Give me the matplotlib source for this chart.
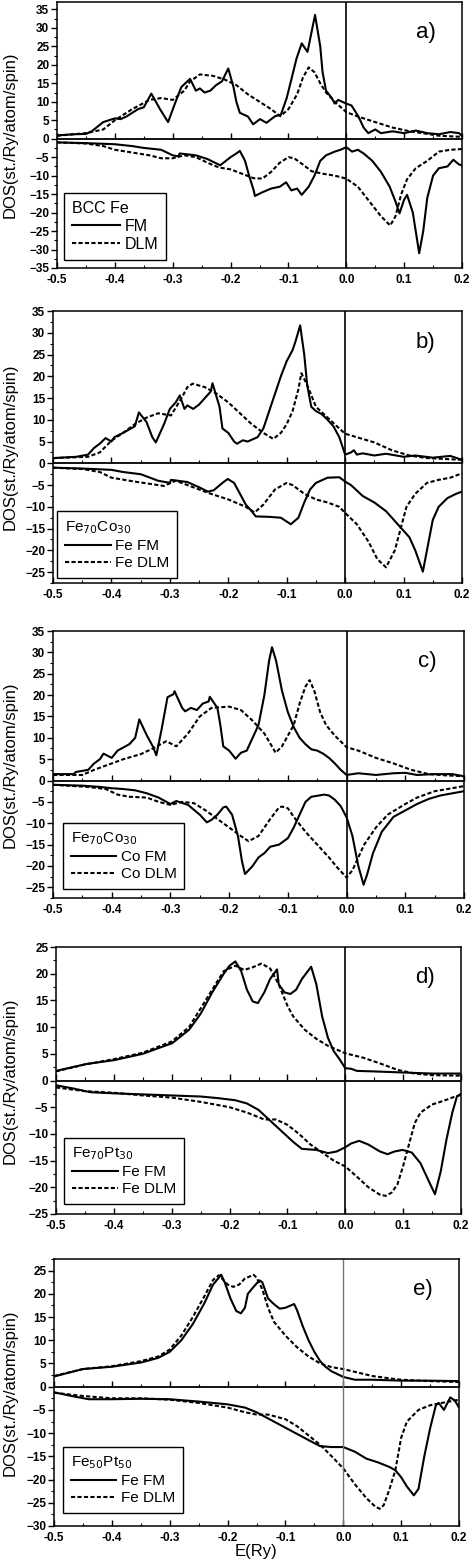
import numpy as np
import matplotlib
matplotlib.use("Agg")
import matplotlib.pyplot as plt
from matplotlib.ticker import MultipleLocator

plt.rcParams['font.family'] = ['Liberation Sans', 'DejaVu Sans']

# ---------------- panel a) BCC Fe ----------------
a_fm_up_x = [-0.5, -0.47, -0.45, -0.44, -0.42, -0.40, -0.39, -0.38, -0.36, -0.35, -0.337, -0.322, -0.308, -0.295,
             -0.285, -0.27, -0.26, -0.253, -0.245, -0.235, -0.225, -0.215, -0.204, -0.195, -0.19, -0.184, -0.17,
             -0.161, -0.149, -0.138, -0.123, -0.113, -0.103, -0.095, -0.086, -0.077, -0.067, -0.054, -0.045,
             -0.041, -0.035, -0.025, -0.02, -0.014, 0.0, 0.009, 0.021, 0.03, 0.038, 0.05, 0.06, 0.08, 0.1,
             0.12, 0.14, 0.16, 0.18, 0.195, 0.2]
a_fm_up_y = [0.9, 1.2, 1.3, 2.0, 4.5, 5.5, 5.3, 6.0, 8.0, 8.5, 12.2, 8.0, 4.5, 10.0,
             14.0, 16.2, 13.0, 13.6, 12.5, 13.0, 14.5, 15.5, 19.0, 14.0, 10.0, 7.0, 6.0,
             3.9, 5.3, 4.3, 6.1, 6.5, 11.0, 16.0, 21.7, 25.8, 23.5, 33.5, 25.0,
             18.0, 13.0, 11.0, 9.5, 10.5, 9.5, 9.0, 6.0, 3.0, 1.5, 2.5, 1.5, 2.0, 1.5,
             2.2, 1.5, 1.2, 1.8, 1.5, 0.7]
a_dlm_up_x = [-0.5, -0.45, -0.42, -0.40, -0.37, -0.34, -0.32, -0.30, -0.28, -0.27, -0.253, -0.23, -0.21, -0.19,
              -0.17, -0.15, -0.13, -0.114, -0.10, -0.085, -0.075, -0.065, -0.055, -0.045, -0.035, -0.02, 0.0,
              0.02, 0.05, 0.08, 0.11, 0.14, 0.16, 0.2]
a_dlm_up_y = [0.8, 1.5, 2.5, 5.0, 8.0, 10.5, 11.0, 10.5, 13.0, 15.5, 17.4, 17.0, 16.0, 14.5,
              12.0, 10.0, 8.0, 6.1, 8.0, 12.0, 16.5, 19.3, 18.0, 15.0, 12.5, 10.0, 7.2,
              6.0, 4.5, 3.0, 2.0, 1.3, 0.8, 0.5]
a_fm_dn_x = [-0.5, -0.45, -0.40, -0.37, -0.35, -0.32, -0.30, -0.29, -0.288, -0.26, -0.24, -0.218, -0.2, -0.19,
             -0.184, -0.175, -0.168, -0.16, -0.158, -0.145, -0.13, -0.115, -0.104, -0.095, -0.085, -0.077,
             -0.065, -0.055, -0.045, -0.035, -0.02, -0.01, 0.0, 0.01, 0.02, 0.03, 0.045, 0.06, 0.075, 0.085,
             0.092, 0.1, 0.105, 0.115, 0.122, 0.126, 0.133, 0.14, 0.15, 0.16, 0.175, 0.185, 0.195, 0.2]
a_fm_dn_y = [-1.0, -1.2, -1.5, -2.0, -2.5, -3.0, -4.5, -4.8, -4.0, -4.5, -5.5, -7.2, -5.0, -4.0,
             -3.3, -6.0, -10.0, -14.0, -15.5, -14.5, -13.5, -13.0, -11.8, -14.0, -13.5, -15.2,
             -13.0, -10.0, -6.0, -4.5, -3.5, -3.0, -2.3, -3.5, -3.0, -4.0, -6.0, -9.0, -13.0, -17.0,
             -20.2, -16.5, -15.2, -20.0, -27.0, -31.0, -25.0, -16.0, -10.0, -8.0, -7.5, -5.7, -7.0, -7.2]
a_dlm_dn_x = [-0.5, -0.45, -0.42, -0.40, -0.38, -0.36, -0.34, -0.32, -0.30, -0.28, -0.26, -0.24, -0.22, -0.20,
              -0.18, -0.16, -0.145, -0.13, -0.115, -0.1, -0.09, -0.075, -0.06, -0.04, -0.02, 0.0, 0.02, 0.04,
              0.06, 0.076, 0.085, 0.095, 0.105, 0.12, 0.14, 0.16, 0.18, 0.2]
a_dlm_dn_y = [-1.0, -1.3, -2.0, -3.0, -3.5, -4.0, -4.5, -5.3, -5.3, -4.5, -5.0, -6.5, -7.8, -8.3,
              -9.5, -10.7, -10.8, -9.0, -6.5, -5.0, -5.3, -7.0, -8.8, -9.5, -10.0, -10.8, -13.0, -17.0,
              -21.0, -23.5, -21.0, -15.0, -11.0, -8.0, -6.0, -3.5, -3.0, -2.8]

# ---------------- panel b) Fe70Co30, Fe site ----------------
b_fm_up_x = [-0.5, -0.46, -0.44, -0.43, -0.42, -0.41, -0.40, -0.395, -0.38, -0.36, -0.353, -0.34, -0.33, -0.324,
             -0.31, -0.30, -0.29, -0.283, -0.275, -0.27, -0.26, -0.25, -0.24, -0.23, -0.227, -0.215, -0.21,
             -0.20, -0.19, -0.185, -0.175, -0.167, -0.15, -0.14, -0.13, -0.12, -0.11, -0.10, -0.09, -0.085,
             -0.077, -0.07, -0.065, -0.058, -0.05, -0.04, -0.03, -0.02, -0.01, -0.005, 0.0, 0.01, 0.015,
             0.02, 0.03, 0.05, 0.07, 0.1, 0.12, 0.15, 0.18, 0.2]
b_fm_up_y = [1.2, 1.5, 2.0, 3.5, 4.5, 5.8, 5.0, 6.0, 7.0, 8.5, 11.7, 9.5, 6.0, 4.8,
             9.0, 12.5, 14.0, 15.6, 12.5, 13.3, 12.5, 13.5, 15.0, 16.5, 18.4, 13.0, 8.0,
             7.0, 5.0, 4.5, 5.3, 5.0, 6.0, 8.0, 12.0, 16.0, 20.0, 23.5, 26.0, 28.0,
             31.7, 25.0, 18.0, 13.0, 12.0, 11.3, 10.0, 8.5, 6.0, 4.0, 2.0, 2.5, 3.0,
             2.0, 2.3, 1.8, 2.2, 1.5, 1.8, 1.3, 1.7, 0.8]
b_dlm_up_x = [-0.5, -0.44, -0.42, -0.40, -0.38, -0.36, -0.34, -0.32, -0.298, -0.28, -0.27, -0.261, -0.24, -0.22,
              -0.20, -0.18, -0.16, -0.14, -0.123, -0.11, -0.10, -0.09, -0.08, -0.075, -0.065, -0.05, -0.03,
              -0.01, 0.0, 0.02, 0.05, 0.08, 0.11, 0.14, 0.17, 0.2]
b_dlm_up_y = [1.2, 1.5, 2.5, 5.2, 7.0, 9.0, 10.5, 11.5, 11.0, 15.0, 17.5, 18.3, 17.5, 16.0,
              14.0, 11.5, 9.0, 7.0, 5.6, 7.0, 9.0, 12.0, 17.0, 20.7, 18.0, 13.0, 10.5,
              8.0, 6.8, 6.0, 4.8, 3.0, 1.8, 1.2, 1.0, 0.8]
b_fm_dn_x = [-0.5, -0.45, -0.40, -0.38, -0.35, -0.32, -0.30, -0.298, -0.27, -0.25, -0.235, -0.225, -0.21, -0.201,
             -0.19, -0.18, -0.17, -0.16, -0.153, -0.13, -0.11, -0.093, -0.08, -0.07, -0.06, -0.05, -0.03,
             -0.01, 0.0, 0.01, 0.03, 0.05, 0.07, 0.09, 0.11, 0.12, 0.128, 0.133, 0.14, 0.15, 0.16, 0.175,
             0.19, 0.2]
b_fm_dn_y = [-1.0, -1.2, -1.5, -2.0, -2.5, -4.0, -4.5, -3.8, -4.3, -5.5, -6.5, -6.2, -4.5, -3.6,
             -4.5, -7.0, -9.5, -11.0, -12.2, -12.3, -12.5, -14.0, -12.5, -9.0, -6.0, -4.5, -3.3,
             -3.2, -4.2, -5.0, -7.5, -9.0, -11.0, -14.0, -17.0, -20.0, -23.0, -24.9, -20.0, -13.0, -10.0, -8.0,
             -7.0, -6.5]
b_dlm_dn_x = [-0.5, -0.45, -0.42, -0.40, -0.36, -0.32, -0.31, -0.29, -0.26, -0.23, -0.20, -0.17, -0.155, -0.14,
              -0.12, -0.10, -0.09, -0.07, -0.05, -0.03, -0.01, 0.0, 0.02, 0.04, 0.055, 0.07, 0.085, 0.095,
              0.105, 0.12, 0.14, 0.16, 0.18, 0.2]
b_dlm_dn_y = [-1.0, -1.3, -2.0, -3.3, -4.2, -5.0, -5.2, -4.0, -5.5, -7.0, -8.3, -10.0, -11.3, -9.5,
              -6.0, -4.5, -5.0, -7.0, -8.3, -9.0, -10.0, -11.4, -14.0, -18.0, -22.0, -23.9, -20.0, -15.0,
              -10.0, -7.0, -4.5, -3.8, -3.3, -2.3]

# ---------------- panel c) Fe70Co30, Co site ----------------
c_fm_up_x = [-0.5, -0.465, -0.461, -0.44, -0.43, -0.42, -0.414, -0.40, -0.39, -0.37, -0.36, -0.353, -0.34, -0.33,
             -0.324, -0.315, -0.305, -0.295, -0.293, -0.28, -0.275, -0.265, -0.255, -0.245, -0.235, -0.233,
             -0.22, -0.215, -0.21, -0.20, -0.189, -0.18, -0.17, -0.16, -0.15, -0.14, -0.132, -0.127, -0.12,
             -0.11, -0.10, -0.09, -0.08, -0.07, -0.06, -0.05, -0.04, -0.03, -0.02, -0.01, 0.0, 0.02, 0.05,
             0.08, 0.1, 0.12, 0.15, 0.18, 0.2]
c_fm_up_y = [1.5, 1.5, 2.0, 2.5, 4.0, 5.0, 6.3, 5.3, 7.0, 8.5, 10.0, 14.3, 10.5, 8.0,
             5.9, 12.0, 19.5, 20.2, 20.9, 17.0, 16.2, 17.0, 16.5, 18.0, 18.5, 19.6,
             17.0, 13.0, 8.0, 7.0, 5.1, 6.5, 7.0, 10.0, 13.0, 20.0, 28.0, 31.2, 28.0,
             21.0, 16.0, 12.5, 10.0, 8.5, 7.3, 7.0, 6.3, 5.3, 4.0, 2.5, 1.3, 1.7, 1.3,
             1.7, 1.8, 1.3, 1.5, 1.5, 1.0]
c_dlm_up_x = [-0.5, -0.45, -0.43, -0.40, -0.38, -0.35, -0.33, -0.307, -0.29, -0.27, -0.25, -0.23, -0.20, -0.18,
              -0.16, -0.14, -0.125, -0.121, -0.11, -0.09, -0.08, -0.07, -0.063, -0.055, -0.045, -0.035, -0.02,
              0.0, 0.02, 0.05, 0.08, 0.11, 0.14, 0.17, 0.2]
c_dlm_up_y = [1.3, 1.3, 2.5, 4.0, 5.0, 6.2, 7.5, 9.2, 8.0, 11.0, 15.0, 17.0, 17.3, 16.5,
              14.0, 11.0, 7.5, 6.5, 8.0, 13.0, 18.0, 22.0, 23.5, 21.0, 16.0, 13.0, 10.5,
              7.8, 7.0, 5.3, 4.0, 2.5, 1.5, 1.2, 1.0]
c_fm_dn_x = [-0.5, -0.45, -0.42, -0.40, -0.38, -0.36, -0.34, -0.32, -0.30, -0.29, -0.27, -0.25, -0.238, -0.23,
             -0.22, -0.21, -0.205, -0.195, -0.185, -0.178, -0.173, -0.16, -0.15, -0.14, -0.13, -0.115, -0.10,
             -0.09, -0.08, -0.07, -0.06, -0.038, -0.03, -0.02, -0.01, 0.0, 0.01, 0.02, 0.029, 0.035, 0.045,
             0.06, 0.08, 0.1, 0.12, 0.14, 0.16, 0.18, 0.2]
c_fm_dn_y = [-1.0, -1.2, -1.5, -1.8, -2.0, -2.3, -3.0, -4.0, -5.5, -4.8, -5.7, -8.0, -9.8, -9.2,
             -8.0, -6.3, -6.1, -8.0, -13.0, -19.0, -21.9, -20.0, -18.0, -17.0, -15.5, -15.0, -13.5,
             -11.0, -8.0, -5.0, -3.8, -3.3, -3.5, -4.5, -6.0, -8.6, -13.0, -20.0, -24.4, -22.0, -17.0,
             -12.0, -8.5, -7.0, -5.5, -4.3, -3.5, -3.0, -2.5]
c_dlm_dn_x = [-0.5, -0.44, -0.41, -0.39, -0.37, -0.34, -0.32, -0.30, -0.28, -0.26, -0.24, -0.22, -0.20, -0.18,
              -0.167, -0.15, -0.13, -0.115, -0.11, -0.1, -0.09, -0.07, -0.05, -0.03, -0.015, 0.0, 0.01, 0.02,
              0.03, 0.05, 0.07, 0.1, 0.12, 0.15, 0.18, 0.2]
c_dlm_dn_y = [-1.0, -1.5, -2.0, -3.3, -3.8, -4.0, -5.0, -5.7, -5.0, -5.3, -7.0, -9.0, -11.0, -13.0,
              -14.2, -13.0, -9.0, -6.3, -6.1, -6.5, -8.5, -12.0, -15.0, -18.0, -20.5, -22.7, -21.0, -18.0,
              -15.0, -11.0, -8.0, -5.5, -4.0, -2.5, -1.8, -1.3]

# ---------------- panel d) Fe70Pt30, Fe site ----------------
d_fm_up_x = [-0.5, -0.447, -0.40, -0.35, -0.299, -0.27, -0.25, -0.23, -0.21, -0.20, -0.19, -0.18, -0.17, -0.16,
             -0.151, -0.14, -0.13, -0.118, -0.115, -0.105, -0.095, -0.085, -0.075, -0.059, -0.05, -0.04,
             -0.03, -0.02, -0.01, 0.0, 0.01, 0.02, 0.05, 0.1, 0.15, 0.2]
d_fm_up_y = [1.8, 3.1, 3.8, 5.0, 7.0, 9.5, 12.5, 16.5, 20.0, 21.5, 22.3, 20.5, 17.0, 14.8,
             14.5, 16.5, 19.0, 20.8, 18.0, 16.5, 16.2, 17.0, 19.0, 21.3, 18.0, 12.0,
             8.0, 5.5, 4.0, 2.3, 2.2, 1.8, 1.7, 1.5, 1.3, 1.3]
d_dlm_up_x = [-0.5, -0.45, -0.40, -0.35, -0.30, -0.27, -0.25, -0.23, -0.21, -0.19, -0.175, -0.16, -0.145, -0.13,
              -0.115, -0.10, -0.09, -0.07, -0.05, -0.03, 0.0, 0.03, 0.06, 0.09, 0.12, 0.15, 0.2]
d_dlm_up_y = [1.7, 3.0, 4.0, 5.2, 7.3, 10.0, 13.5, 17.0, 20.5, 21.5, 20.7, 21.2, 21.9, 21.0,
              18.0, 14.0, 12.0, 9.5, 7.8, 6.5, 5.1, 4.3, 3.2, 2.0, 1.3, 1.0, 0.9]
d_fm_dn_x = [-0.5, -0.47, -0.44, -0.40, -0.35, -0.30, -0.25, -0.22, -0.19, -0.17, -0.15, -0.13, -0.11, -0.09,
             -0.075, -0.05, -0.03, -0.015, 0.0, 0.01, 0.024, 0.04, 0.06, 0.073, 0.085, 0.099, 0.115, 0.13,
             0.145, 0.155, 0.165, 0.175, 0.185, 0.193, 0.2]
d_fm_dn_y = [-0.9, -1.5, -2.2, -2.4, -2.6, -2.8, -3.0, -3.3, -3.7, -4.3, -5.5, -7.5, -9.5, -11.5,
             -12.8, -13.0, -13.6, -13.3, -12.5, -11.8, -11.3, -12.0, -13.3, -13.8, -13.3, -13.0, -13.5, -15.5,
             -19.0, -21.3, -17.0, -11.0, -6.0, -3.0, -2.5]
d_dlm_dn_x = [-0.5, -0.45, -0.40, -0.35, -0.30, -0.25, -0.20, -0.17, -0.14, -0.12, -0.10, -0.08, -0.06, -0.04,
              -0.02, 0.0, 0.02, 0.04, 0.06, 0.07, 0.08, 0.09, 0.1, 0.11, 0.12, 0.13, 0.15, 0.17, 0.19, 0.2]
d_dlm_dn_y = [-1.3, -2.0, -2.3, -2.8, -3.2, -4.0, -5.0, -6.0, -7.3, -7.3, -8.3, -10.0, -12.0, -13.5,
              -15.0, -16.1, -18.0, -20.0, -21.4, -21.6, -21.0, -19.5, -16.0, -12.0, -8.0, -6.0, -4.5, -3.8, -3.0, -2.7]

# ---------------- panel e) Fe50Pt50, Fe site ----------------
e_fm_up_x = [-0.5, -0.45, -0.40, -0.35, -0.32, -0.30, -0.28, -0.26, -0.24, -0.225, -0.211, -0.205, -0.195, -0.185,
             -0.177, -0.17, -0.165, -0.155, -0.145, -0.14, -0.13, -0.12, -0.11, -0.10, -0.085, -0.08, -0.07,
             -0.06, -0.05, -0.04, -0.03, -0.02, 0.0, 0.02, 0.05, 0.1, 0.15, 0.2]
e_fm_up_y = [2.2, 3.8, 4.3, 5.2, 6.2, 7.5, 10.0, 13.5, 18.0, 22.0, 24.1, 22.5, 19.0, 16.3,
             15.8, 17.0, 20.0, 21.5, 22.9, 22.5, 19.0, 17.8, 16.8, 17.0, 17.8, 16.5, 13.0,
             10.0, 7.5, 5.5, 4.2, 3.3, 2.1, 1.5, 1.5, 1.3, 1.3, 1.2]
e_dlm_up_x = [-0.5, -0.45, -0.40, -0.35, -0.32, -0.30, -0.28, -0.26, -0.24, -0.225, -0.215, -0.20, -0.19, -0.18,
              -0.17, -0.155, -0.15, -0.14, -0.13, -0.12, -0.10, -0.08, -0.06, -0.04, -0.02, 0.0, 0.02, 0.05,
              0.08, 0.1, 0.15, 0.2]
e_dlm_up_y = [2.3, 3.8, 4.4, 5.5, 6.5, 8.0, 11.0, 15.0, 19.5, 23.0, 24.0, 22.0, 21.5, 22.0,
              23.3, 24.1, 23.5, 21.0, 17.0, 14.0, 11.0, 8.5, 6.5, 5.0, 4.2, 3.8, 3.2, 2.3,
              1.8, 1.5, 1.2, 1.0]
e_fm_dn_x = [-0.5, -0.47, -0.44, -0.40, -0.35, -0.30, -0.25, -0.20, -0.17, -0.15, -0.12, -0.09, -0.06, -0.04,
             -0.02, 0.0, 0.02, 0.04, 0.06, 0.08, 0.09, 0.10, 0.11, 0.122, 0.13, 0.14, 0.15, 0.16, 0.165,
             0.174, 0.18, 0.185, 0.193, 0.2]
e_fm_dn_y = [-1.2, -2.0, -2.7, -2.7, -2.6, -2.7, -3.2, -3.8, -4.5, -5.5, -7.5, -9.5, -11.5, -12.8,
             -13.0, -13.0, -14.0, -15.5, -16.3, -17.3, -18.0, -19.5, -21.5, -23.4, -22.0, -15.0, -9.0, -4.0, -3.5,
             -5.0, -3.5, -2.3, -3.0, -4.5]
e_dlm_dn_x = [-0.5, -0.45, -0.40, -0.35, -0.30, -0.25, -0.20, -0.17, -0.15, -0.13, -0.10, -0.08, -0.06, -0.04,
              -0.02, 0.0, 0.02, 0.04, 0.055, 0.063, 0.07, 0.08, 0.09, 0.10, 0.11, 0.13, 0.15, 0.17, 0.2]
e_dlm_dn_y = [-1.3, -2.0, -2.5, -2.5, -2.8, -3.5, -4.5, -5.5, -6.0, -6.0, -7.0, -8.5, -10.5, -12.5,
              -15.0, -17.6, -21.0, -24.0, -25.8, -26.3, -25.5, -22.0, -18.0, -11.0, -7.5, -5.0, -4.0, -3.5, -2.8]

panel_tags = ['a)', 'b)', 'c)', 'd)', 'e)']
legend_titles = ['BCC Fe', 'Fe$_{70}$Co$_{30}$', 'Fe$_{70}$Co$_{30}$', 'Fe$_{70}$Pt$_{30}$', 'Fe$_{50}$Pt$_{50}$']
legend_labels = [('FM', 'DLM'), ('Fe FM', 'Fe DLM'), ('Co FM', 'Co DLM'),
                 ('Fe FM', 'Fe DLM'), ('Fe FM', 'Fe DLM')]
y_limits = [(-35, 37), (-27.5, 35), (-27.5, 35), (-25, 25), (-30, 27.5)]
y_ticks = [np.arange(-35, 36, 5), np.arange(-25, 36, 5), np.arange(-25, 36, 5),
           np.arange(-25, 26, 5), np.arange(-30, 26, 5)]

panels = [
    (a_fm_up_x, a_fm_up_y, a_dlm_up_x, a_dlm_up_y, a_fm_dn_x, a_fm_dn_y, a_dlm_dn_x, a_dlm_dn_y),
    (b_fm_up_x, b_fm_up_y, b_dlm_up_x, b_dlm_up_y, b_fm_dn_x, b_fm_dn_y, b_dlm_dn_x, b_dlm_dn_y),
    (c_fm_up_x, c_fm_up_y, c_dlm_up_x, c_dlm_up_y, c_fm_dn_x, c_fm_dn_y, c_dlm_dn_x, c_dlm_dn_y),
    (d_fm_up_x, d_fm_up_y, d_dlm_up_x, d_dlm_up_y, d_fm_dn_x, d_fm_dn_y, d_dlm_dn_x, d_dlm_dn_y),
    (e_fm_up_x, e_fm_up_y, e_dlm_up_x, e_dlm_up_y, e_fm_dn_x, e_fm_dn_y, e_dlm_dn_x, e_dlm_dn_y),
]

# axes boxes in pixels: left, right, top, bottom (from the top of the image)
W, H = 474, 1565
boxes = [(57, 462, 2, 268), (53, 462, 311, 583), (53, 464, 631, 898),
         (56, 461, 947, 1214), (54, 459, 1259, 1526)]
legend_anchor = [(0.017, 0.03), (0.01, 0.02), (0.024, 0.034), (0.02, 0.037), (0.022, 0.05)]
xt = np.arange(-0.5, 0.21, 0.1)

fig = plt.figure(figsize=(W / 100, H / 100), dpi=100)
dash = (0, (2.0, 1.1))

for i in range(5):
    l, r, t, b = boxes[i]
    ax = fig.add_axes([l / W, 1 - b / H, (r - l) / W, (b - t) / H])
    fu_x, fu_y, du_x, du_y, fd_x, fd_y, dd_x, dd_y = panels[i]
    ax.plot(fu_x, fu_y, color='black', lw=1.5, label=legend_labels[i][0])
    ax.plot(du_x, du_y, color='black', lw=1.5, linestyle=dash, label=legend_labels[i][1])
    ax.plot(fd_x, fd_y, color='black', lw=1.5)
    ax.plot(dd_x, dd_y, color='black', lw=1.5, linestyle=dash)

    ax.axhline(0, color='black', lw=1.3)
    ax.axvline(0, color='black' if i < 4 else '#777777', lw=1.2 if i < 4 else 1.0)

    ax.set_xlim(-0.5, 0.2)
    ax.set_ylim(*y_limits[i])
    ax.set_xticks(xt)
    ax.set_xticklabels(['-0.5', '-0.4', '-0.3', '-0.2', '-0.1', '0.0', '0.1', '0.2'])
    ax.set_yticks(y_ticks[i])
    ax.xaxis.set_minor_locator(MultipleLocator(0.05))
    ax.yaxis.set_minor_locator(MultipleLocator(2.5))
    ax.tick_params(axis='x', which='both', direction='in', labelsize=8.5, pad=4)
    ax.tick_params(axis='y', which='both', direction='out', labelsize=8.5, pad=1.5)
    ax.tick_params(which='major', length=4, width=1.0)
    ax.tick_params(which='minor', length=2, width=0.8)
    for lab in ax.get_xticklabels() + ax.get_yticklabels():
        lab.set_fontweight('bold')
    for sp in ax.spines.values():
        sp.set_linewidth(1.1)

    # tick marks standing on the zero line (bottom axis of the upper half)
    y0, y1 = y_limits[i]
    sec = ax.secondary_xaxis((0 - y0) / (y1 - y0))
    sec.set_xticks(xt)
    sec.xaxis.set_minor_locator(MultipleLocator(0.05))
    sec.tick_params(which='both', direction='out', top=True, bottom=False,
                    labeltop=False, labelbottom=False)
    sec.tick_params(which='major', length=4, width=1.0)
    sec.tick_params(which='minor', length=2, width=0.8)
    for sp in sec.spines.values():
        sp.set_visible(False)

    ax.text(0.91, 0.885, panel_tags[i], transform=ax.transAxes, fontsize=16,
            ha='center', va='center')

    leg = ax.legend(title=legend_titles[i], loc='lower left', bbox_to_anchor=legend_anchor[i],
                    fontsize=11.5 if i == 0 else 11, title_fontsize=11.5 if i == 0 else 11,
                    frameon=True, fancybox=False, edgecolor='black', framealpha=1,
                    handlelength=3.0, handletextpad=0.3, borderpad=0.5, labelspacing=0.2,
                    borderaxespad=0)
    leg.get_frame().set_linewidth(1.0)
    leg._legend_box.align = 'left'

    fig.text(10 / W, 1 - (t + b) / 2 / H, 'DOS(st./Ry/atom/spin)', rotation=90,
             ha='center', va='center', fontsize=12)

    if i == 4:
        ax.set_xlabel('E(Ry)', fontsize=12, labelpad=0)

fig.savefig('out.png', dpi=100)
